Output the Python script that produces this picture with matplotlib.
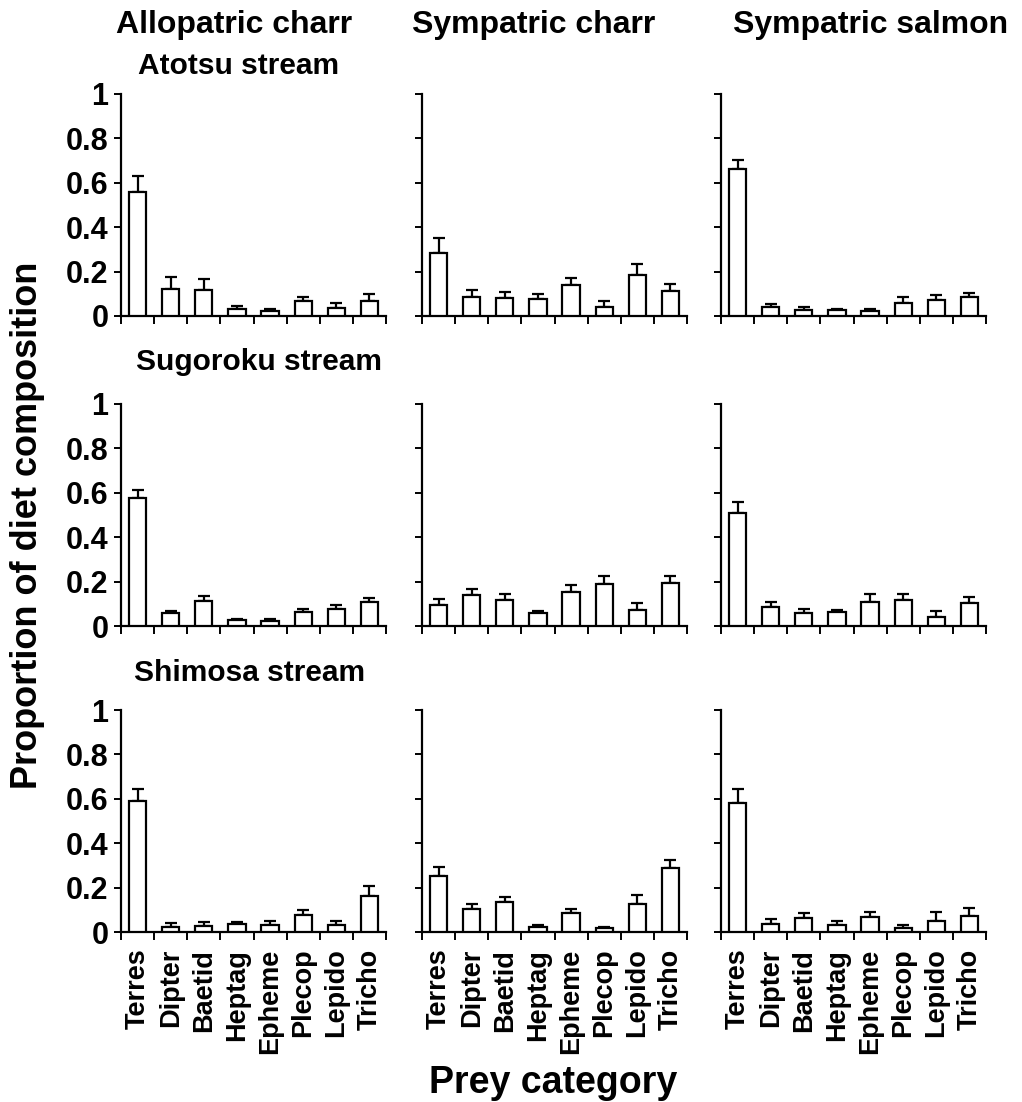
import numpy as np
import matplotlib
matplotlib.use('Agg')
import matplotlib.pyplot as plt

plt.rcParams['font.family'] = ['Liberation Sans', 'DejaVu Sans']
plt.rcParams['font.weight'] = 'bold'

# ---------------------------------------------------------------
# Datos (media y error estandar)
# ---------------------------------------------------------------
categorias = ['Terres', 'Dipter', 'Baetid', 'Heptag', 'Epheme', 'Plecop', 'Lepido', 'Tricho']
grupos = ['Allopatric charr', 'Sympatric charr', 'Sympatric salmon']
arroyos = ['Atotsu stream', 'Sugoroku stream', 'Shimosa stream']

atotsu_allo = [0.560, 0.122, 0.117, 0.033, 0.023, 0.069, 0.035, 0.069]
atotsu_allo_se = [0.070, 0.052, 0.048, 0.014, 0.008, 0.018, 0.025, 0.030]
atotsu_charr = [0.286, 0.087, 0.083, 0.077, 0.138, 0.041, 0.186, 0.111]
atotsu_charr_se = [0.064, 0.032, 0.027, 0.024, 0.032, 0.025, 0.046, 0.033]
atotsu_salmon = [0.664, 0.040, 0.027, 0.027, 0.022, 0.060, 0.070, 0.085]
atotsu_salmon_se = [0.039, 0.015, 0.015, 0.004, 0.009, 0.024, 0.023, 0.017]

sugoroku_allo = [0.577, 0.059, 0.114, 0.027, 0.024, 0.065, 0.077, 0.108]
sugoroku_allo_se = [0.034, 0.010, 0.021, 0.006, 0.009, 0.010, 0.018, 0.018]
sugoroku_charr = [0.096, 0.138, 0.117, 0.060, 0.155, 0.188, 0.071, 0.195]
sugoroku_charr_se = [0.024, 0.027, 0.027, 0.008, 0.028, 0.035, 0.031, 0.028]
sugoroku_salmon = [0.507, 0.086, 0.059, 0.063, 0.110, 0.119, 0.039, 0.102]
sugoroku_salmon_se = [0.051, 0.021, 0.019, 0.011, 0.033, 0.024, 0.029, 0.027]

shimosa_allo = [0.588, 0.024, 0.028, 0.036, 0.030, 0.075, 0.031, 0.160]
shimosa_allo_se = [0.058, 0.018, 0.018, 0.007, 0.018, 0.026, 0.020, 0.046]
shimosa_charr = [0.252, 0.102, 0.133, 0.022, 0.084, 0.018, 0.127, 0.289]
shimosa_charr_se = [0.043, 0.022, 0.023, 0.009, 0.018, 0.004, 0.038, 0.035]
shimosa_salmon = [0.581, 0.037, 0.063, 0.031, 0.069, 0.016, 0.049, 0.070]
shimosa_salmon_se = [0.062, 0.020, 0.022, 0.017, 0.022, 0.017, 0.041, 0.040]

medias = [[atotsu_allo, atotsu_charr, atotsu_salmon],
          [sugoroku_allo, sugoroku_charr, sugoroku_salmon],
          [shimosa_allo, shimosa_charr, shimosa_salmon]]
errores = [[atotsu_allo_se, atotsu_charr_se, atotsu_salmon_se],
           [sugoroku_allo_se, sugoroku_charr_se, sugoroku_salmon_se],
           [shimosa_allo_se, shimosa_charr_se, shimosa_salmon_se]]

# ---------------------------------------------------------------
# Geometria (pixeles)
# ---------------------------------------------------------------
W, H = 1022, 1102
x_izq = [121, 422, 721]
ancho = 265
y_sup = [94, 404, 710]
alto = 222

fig = plt.figure(figsize=(W / 100, H / 100), dpi=100)

xpos = np.arange(len(categorias)) + 0.5
for i in range(3):
    for j in range(3):
        ax = fig.add_axes([x_izq[j] / W, 1 - (y_sup[i] + alto) / H, ancho / W, alto / H])
        ax.bar(xpos, medias[i][j], width=0.52, color='white', edgecolor='black',
               linewidth=1.6, zorder=3)
        ax.errorbar(xpos, medias[i][j], yerr=[np.zeros(8), errores[i][j]], fmt='none',
                    ecolor='black', elinewidth=1.6, capsize=4, capthick=1.6, zorder=2)
        ax.set_xlim(0, 8)
        ax.set_ylim(0, 1)
        for s in ['top', 'right']:
            ax.spines[s].set_visible(False)
        for s in ['left', 'bottom']:
            ax.spines[s].set_linewidth(1.6)
        ax.set_xticks(np.arange(9))
        ax.set_xticklabels([])
        ax.set_xticks(xpos, minor=True)
        ax.tick_params(axis='x', which='major', direction='out', length=6, width=1.4)
        ax.tick_params(axis='x', which='minor', length=0, pad=12)
        ax.set_yticks([0, 0.2, 0.4, 0.6, 0.8, 1.0])
        ax.tick_params(axis='y', direction='out', length=5, width=1.4, pad=4)
        if j == 0:
            ax.set_yticklabels(['0', '0.2', '0.4', '0.6', '0.8', '1'],
                               fontsize=22, fontweight='bold')
        else:
            ax.set_yticklabels([])
        if i == 2:
            ax.set_xticklabels(categorias, minor=True, rotation=90,
                               fontsize=19.5, fontweight='bold')

# Titulos de columnas y arroyos
cx = [234, 534, 871]
for j in range(3):
    fig.text(cx[j] / W, 1 - 33 / H, grupos[j], fontsize=23, fontweight='bold',
             ha='center', va='baseline')
y_arroyo = [74, 370, 681]
x_arroyo = [138, 136, 134]
for i in range(3):
    fig.text(x_arroyo[i] / W, 1 - y_arroyo[i] / H, arroyos[i], fontsize=21.5,
             fontweight='bold', ha='left', va='baseline')

fig.text(28 / W, 1 - 525 / H, 'Proportion of diet composition', fontsize=26,
         fontweight='bold', rotation=90, ha='center', va='center')
fig.text(553 / W, 1 - 1083 / H, 'Prey category', fontsize=27, fontweight='bold',
         ha='center', va='center')

fig.savefig('out.png', dpi=100)
